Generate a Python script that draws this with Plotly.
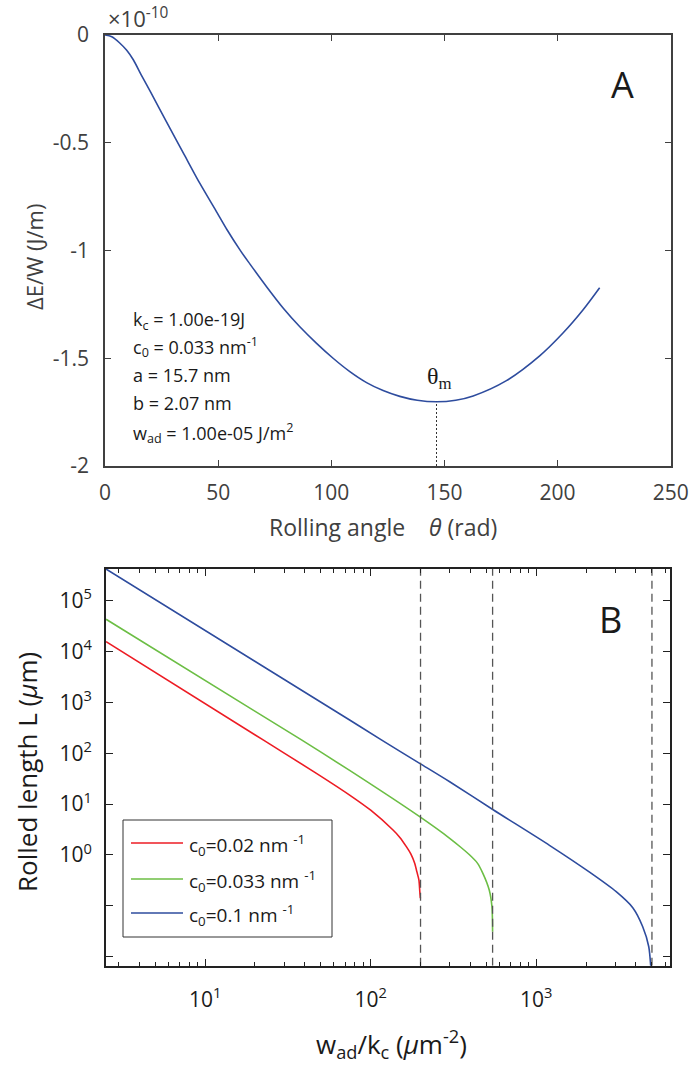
import plotly.graph_objects as go

# panel A: energy change vs rolling angle (values in units of 1e-10 J/m)
theta = [0, 3, 6.5, 9.5, 12.5, 16, 20, 27, 35, 42, 49, 54, 60, 64, 71.4, 78.8, 86.1, 93.5,
         100.8, 108.2, 115.6, 122.9, 130.3, 138, 146.5, 155, 162.7, 177.4, 192.1,
         202.4, 211.3, 218.6]
delta_e = [0, -0.008, -0.037, -0.07, -0.115, -0.185, -0.262, -0.40, -0.555, -0.69, -0.815, -0.905,
           -1.003, -1.062, -1.168, -1.268, -1.354, -1.431, -1.500, -1.562, -1.613,
           -1.650, -1.677, -1.695, -1.702, -1.695, -1.675, -1.604, -1.489, -1.383,
           -1.275, -1.173]
theta_m = 146.5
delta_e_min = -1.702

params = ["k<sub>c</sub> = 1.00e-19J",
          "c<sub>0</sub> = 0.033 nm<sup>-1</sup>",
          "a = 15.7 nm",
          "b = 2.07 nm",
          "w<sub>ad</sub> = 1.00e-05 J/m<sup>2</sup>"]

# panel B: rolled length vs w_ad/k_c
w_red = [2.52, 22.4, 47.0, 74.6, 100, 136.4, 150, 164.2, 175, 184.4, 190, 195.6, 198, 199.5]
L_red = [15660, 183, 40.4, 15.1, 7.6, 3.10, 2.22, 1.46, 1.04, 0.687, 0.47, 0.322, 0.19, 0.141]

w_green = [2.52, 38.2, 74.6, 197.6, 300, 350, 395, 440, 476, 520, 540, 545]
L_green = [43150, 183, 46, 5.66, 2.13, 1.42, 1.01, 0.70, 0.436, 0.205, 0.096, 0.031]

w_blue = [2.52, 74.6, 116, 197.6, 300, 552, 1202, 2099, 3041, 3830, 4398, 4784, 4990]
L_blue = [4.2e5, 452, 183, 63.5, 27.6, 7.67, 1.55, 0.46, 0.19, 0.092, 0.0389, 0.0157, 0.003]

critical_w = [200, 545, 5000]
legend_names = ["c<sub>0</sub>=0.02 nm <sup>-1</sup>",
                "c<sub>0</sub>=0.033 nm <sup>-1</sup>",
                "c<sub>0</sub>=0.1 nm <sup>-1</sup>"]
line_colors = ["#ED1C24", "#6CBE45", "#2E4C9E"]

W, H = 691, 1075
FONT = "Open Sans"
GRAY = "#404040"
DARK = "#1a1a1a"


def px(x):
    return x / W


def py(y):
    return 1 - y / H


fig = go.Figure()

fig.add_trace(go.Scatter(x=theta, y=delta_e, mode="lines",
                         line=dict(color="#2E4C9E", width=1.6, shape="spline", smoothing=0.8),
                         xaxis="x", yaxis="y", showlegend=False))

for w, L, col in zip([w_red, w_green, w_blue], [L_red, L_green, L_blue], line_colors):
    fig.add_trace(go.Scatter(x=w, y=L, mode="lines", showlegend=False,
                             line=dict(color=col, width=1.6, shape="spline", smoothing=0.7),
                             xaxis="x2", yaxis="y2"))

# dotted marker at theta_m
fig.add_shape(type="line", xref="x", yref="y", x0=theta_m, x1=theta_m, y0=-2, y1=delta_e_min,
              line=dict(color="#333333", width=1, dash="2px,2px"))

# critical adhesion lines
for wc in critical_w:
    fig.add_trace(go.Scatter(x=[wc, wc], y=[10 ** -2.177, 10 ** 5.624], mode="lines", showlegend=False,
                             line=dict(color="#555555", width=1.3, dash="8px,5px"),
                             xaxis="x2", yaxis="y2"))

# legend (drawn by hand so rows keep the reference spacing)
fig.add_shape(type="rect", xref="paper", yref="paper", x0=px(123), x1=px(332), y0=py(937), y1=py(820),
              line=dict(color="#333333", width=1), fillcolor="white", layer="above")
for i, (name, col) in enumerate(zip(legend_names, line_colors)):
    yy = [843, 879, 913][i]
    fig.add_shape(type="line", xref="paper", yref="paper", x0=px(131), x1=px(183), y0=py(yy), y1=py(yy),
                  line=dict(color=col, width=1.6), layer="above")

minor_vals = [m * 10 ** e for e in range(0, 4) for m in range(2, 10)]

axis_a = dict(showgrid=False, zeroline=False, showline=True, linewidth=1.5, linecolor=GRAY,
              mirror="ticks", ticks="inside", ticklen=6, tickwidth=1.3, tickcolor=GRAY, automargin=False,
              tickfont=dict(family=FONT, size=21, color=GRAY))
axis_b = dict(showgrid=False, zeroline=False, showline=True, linewidth=2, linecolor="#222222",
              mirror="ticks", ticks="inside", ticklen=7, tickwidth=1.3, tickcolor="#222222", automargin=False,
              tickfont=dict(family=FONT, size=21, color=DARK), type="log")

fig.update_layout(
    width=W, height=H, margin=dict(l=0, r=0, t=0, b=0, autoexpand=False),
    paper_bgcolor="white", plot_bgcolor="white", showlegend=False,
    xaxis=dict(axis_a, domain=[px(105), px(670.7)], range=[0, 250], tickvals=[0, 50, 100, 150, 200, 250],
               anchor="y", ticklabelstandoff=7),
    yaxis=dict(axis_a, domain=[py(466), py(35)], range=[-2, 0], tickvals=[-2, -1.5, -1, -0.5, 0],
               ticktext=["-2", "-1.5", "-1", "-0.5", "0"], anchor="x", ticklabelstandoff=10),
    xaxis2=dict(axis_b, domain=[px(106), px(669.5)], range=[0.401, 3.805],
                tickvals=[10, 100, 1000], ticktext=["10<sup>1</sup>", "10<sup>2</sup>", "10<sup>3</sup>"],
                minor=dict(tickvals=minor_vals, ticks="inside", ticklen=3.5, tickcolor="#222222", tickwidth=1),
                anchor="y2", ticklabelstandoff=14),
    yaxis2=dict(axis_b, domain=[py(965.7), py(569)], range=[-2.177, 5.624],
                tickvals=[1e-2, 1e-1, 1, 10, 100, 1e3, 1e4, 1e5],
                ticktext=["", "", "10<sup>0</sup>", "10<sup>1</sup>", "10<sup>2</sup>", "10<sup>3</sup>",
                          "10<sup>4</sup>", "10<sup>5</sup>"],
                anchor="x2", ticklabelstandoff=8),
)


def note(text, x, y, size, color=DARK, angle=0, xanchor="center", family=FONT):
    return dict(text=text, x=px(x), y=py(y), xref="paper", yref="paper", xanchor=xanchor, yanchor="middle",
                textangle=angle, showarrow=False, font=dict(family=family, size=size, color=color))


ann = []
# panel A texts
ann.append(note("×10<sup>-10</sup>", 106, 18, 22, GRAY, xanchor="left"))
ann.append(note("A", 622.7, 85, 36))
ann.append(note("ΔE/W (J/m)", 34, 257, 22, GRAY, angle=-90))
ann.append(note("Rolling angle &nbsp;&nbsp;&nbsp;<i>θ</i> (rad)", 383, 527, 23, GRAY))
ann.append(dict(text="θ<sub>m</sub>", x=theta_m + 1.5, y=delta_e_min + 0.03, xref="x", yref="y",
                xanchor="center", yanchor="bottom", showarrow=False,
                font=dict(family="Liberation Serif", size=24, color=DARK)))
for t, yy in zip(params, [320, 347, 375, 402.7, 433]):
    ann.append(note(t, 131, yy, 18, xanchor="left"))

# panel B texts
ann.append(note("B", 610, 619, 36))
ann.append(note("Rolled length L (<i>µ</i>m)", 27, 772, 26, angle=-90))
ann.append(note("w<sub>ad</sub>/k<sub>c</sub> (<i>µ</i>m<sup>-2</sup>)", 391, 1044, 26))
for name, yy in zip(legend_names, [845, 881, 915]):
    ann.append(note(name, 187, yy, 19, xanchor="left"))

fig.update_layout(annotations=ann)

fig.write_html("out.html", config={"displayModeBar": False},
               post_script="document.body.style.margin='0';")
